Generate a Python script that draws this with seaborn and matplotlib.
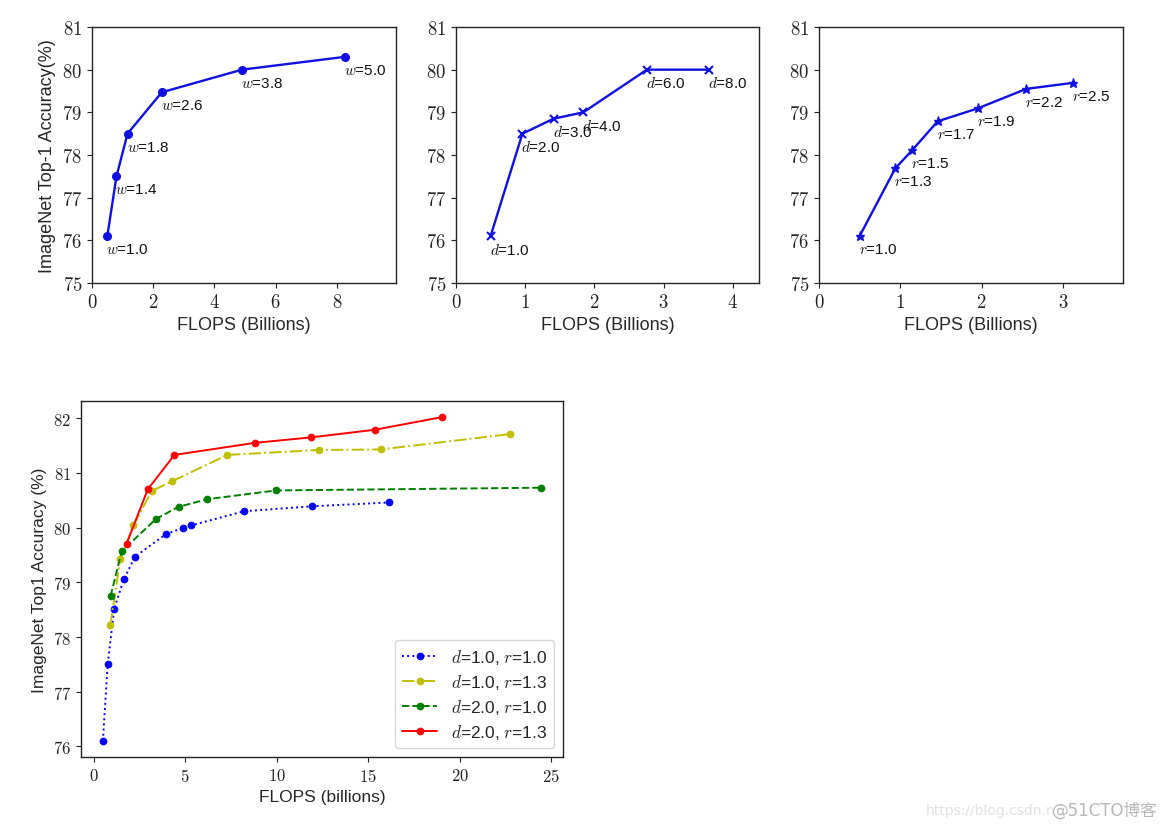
import numpy as np
import pandas as pd
import matplotlib
matplotlib.use("Agg")
import matplotlib.pyplot as plt
import seaborn as sns
from matplotlib.ticker import FuncFormatter

# ---------------- data ----------------
# width scaling
w_flops = [0.5, 0.8, 1.16, 2.28, 4.9, 8.25]
w_acc = [76.1, 77.5, 78.5, 79.47, 80.0, 80.3]
w_labels = ["1.0", "1.4", "1.8", "2.6", "3.8", "5.0"]

# depth scaling
d_flops = [0.5, 0.96, 1.41, 1.84, 2.76, 3.65]
d_acc = [76.1, 78.5, 78.85, 79.0, 80.0, 80.0]
d_labels = ["1.0", "2.0", "3.0", "4.0", "6.0", "8.0"]

# resolution scaling
r_flops = [0.5, 0.94, 1.15, 1.46, 1.95, 2.55, 3.12]
r_acc = [76.1, 77.69, 78.12, 78.79, 79.09, 79.55, 79.69]
r_labels = ["1.0", "1.3", "1.5", "1.7", "1.9", "2.2", "2.5"]

# compound scaling
c1_flops = [0.51, 0.77, 1.13, 1.66, 2.27, 3.95, 4.86, 5.33, 8.23, 11.95, 16.15]
c1_acc = [76.10, 77.50, 78.52, 79.06, 79.47, 79.88, 79.99, 80.04, 80.30, 80.39, 80.46]
c2_flops = [0.91, 1.46, 2.17, 3.18, 4.30, 7.31, 12.30, 15.70, 22.73]
c2_acc = [78.21, 79.42, 80.04, 80.67, 80.85, 81.33, 81.42, 81.43, 81.71]
c3_flops = [0.93, 1.54, 3.42, 4.64, 6.22, 9.97, 24.45]
c3_acc = [78.75, 79.57, 80.16, 80.38, 80.52, 80.68, 80.73]
c4_flops = [1.80, 2.96, 4.42, 8.81, 11.87, 15.36, 19.02]
c4_acc = [79.70, 80.70, 81.33, 81.55, 81.65, 81.79, 82.02]
compound_labels = [r"$d$=1.0, $r$=1.0", r"$d$=1.0, $r$=1.3",
                   r"$d$=2.0, $r$=1.0", r"$d$=2.0, $r$=1.3"]

# ---------------- style ----------------
sns.set_style("ticks")
plt.rcParams["font.family"] = ["Liberation Sans", "DejaVu Sans"]
plt.rcParams["mathtext.fontset"] = "cm"
plt.rcParams["axes.edgecolor"] = "#222222"
plt.rcParams["axes.linewidth"] = 1.0
plt.rcParams["xtick.color"] = "#222222"
plt.rcParams["ytick.color"] = "#222222"
plt.rcParams["xtick.major.size"] = 3.5
plt.rcParams["ytick.major.size"] = 3.5

BLUE = "#1010e0"
W, H = 1169, 828
fig = plt.figure(figsize=(W / 100, H / 100), dpi=100)

mathfmt = FuncFormatter(lambda v, p: f"${v:g}$")


def px_axes(l, t, r, b):
    return fig.add_axes([l / W, 1 - b / H, (r - l) / W, (b - t) / H])


def top_panel(ax, x, y, labels, var, marker, ms, mew, xmax, xticks, ylabel=None):
    df = pd.DataFrame({"FLOPS": x, "Acc": y})
    sns.lineplot(data=df, x="FLOPS", y="Acc", ax=ax, color=BLUE, marker=marker,
                 markersize=ms, markeredgecolor=BLUE, markerfacecolor=BLUE,
                 markeredgewidth=mew, linewidth=1.7, sort=False, estimator=None)
    for xi, yi, lab in zip(x, y, labels):
        ax.annotate(f"${var}$={lab}", (xi, yi), xytext=(-1, -13),
                    textcoords="offset pixels", ha="left", va="center",
                    fontsize=11, color="#111111")
    ax.set_ylim(75, 81)
    ax.set_yticks(range(75, 82))
    ax.set_xticks(xticks)
    ax.set_xlim(0, xmax)
    ax.xaxis.set_major_formatter(mathfmt)
    ax.yaxis.set_major_formatter(mathfmt)
    ax.tick_params(labelsize=13.5)
    ax.set_xlabel("FLOPS (Billions)", fontsize=13)
    ax.set_ylabel(ylabel if ylabel else "", fontsize=13)


ax1 = px_axes(92, 28, 396, 284)
top_panel(ax1, w_flops, w_acc, w_labels, "w", "o", 5.5, 1.0, 9.93,
          [0, 2, 4, 6, 8], "ImageNet Top-1 Accuracy(%)")
ax2 = px_axes(456, 28, 759, 284)
top_panel(ax2, d_flops, d_acc, d_labels, "d", "x", 5.5, 1.5, 4.38,
          [0, 1, 2, 3, 4])
ax3 = px_axes(819, 28, 1123, 284)
top_panel(ax3, r_flops, r_acc, r_labels, "r", "*", 6.5, 1.0, 3.74,
          [0, 1, 2, 3])

# ---------------- compound scaling panel ----------------
ax4 = px_axes(81, 402, 563, 758)
series = [
    (c1_flops, c1_acc, "b", ":"),
    (c2_flops, c2_acc, "y", "-."),
    (c3_flops, c3_acc, "g", "--"),
    (c4_flops, c4_acc, "r", "-"),
]
for (fx, fy, col, ls), lab in zip(series, compound_labels):
    df = pd.DataFrame({"FLOPS": fx, "Acc": fy})
    sns.lineplot(data=df, x="FLOPS", y="Acc", ax=ax4, color=col, linestyle=ls,
                 marker="o", markersize=4.8, markeredgecolor=col,
                 markerfacecolor=col, linewidth=1.4, sort=False,
                 estimator=None, label=lab)
ax4.set_yticks([76, 77, 78, 79, 80, 81, 82])
ax4.set_xticks([0, 5, 10, 15, 20, 25])
ax4.xaxis.set_major_formatter(mathfmt)
ax4.yaxis.set_major_formatter(mathfmt)
ax4.tick_params(labelsize=12)
ax4.set_xlabel("FLOPS (billions)", fontsize=12.5)
ax4.set_ylabel("ImageNet Top1 Accuracy (%)", fontsize=12.5)
leg = ax4.legend(loc="lower right", fontsize=12.5, frameon=True, fancybox=True,
                 framealpha=0.85, edgecolor="#d0d0d0", handlelength=2.0,
                 labelspacing=0.35, borderpad=0.4)

# watermark
fig.text(1055 / W, 1 - 811 / H, "https://blog.csdn.n", ha="right", va="center",
         fontsize=10, color="#e2e2e2", family=["DejaVu Sans", "Noto Sans CJK SC"])
fig.text(1158 / W, 1 - 811 / H, "@51CTO博客", ha="right", va="center",
         fontsize=12, color="#b8b8b8", family=["DejaVu Sans", "Noto Sans CJK SC"])

fig.savefig("out.png", dpi=100)
